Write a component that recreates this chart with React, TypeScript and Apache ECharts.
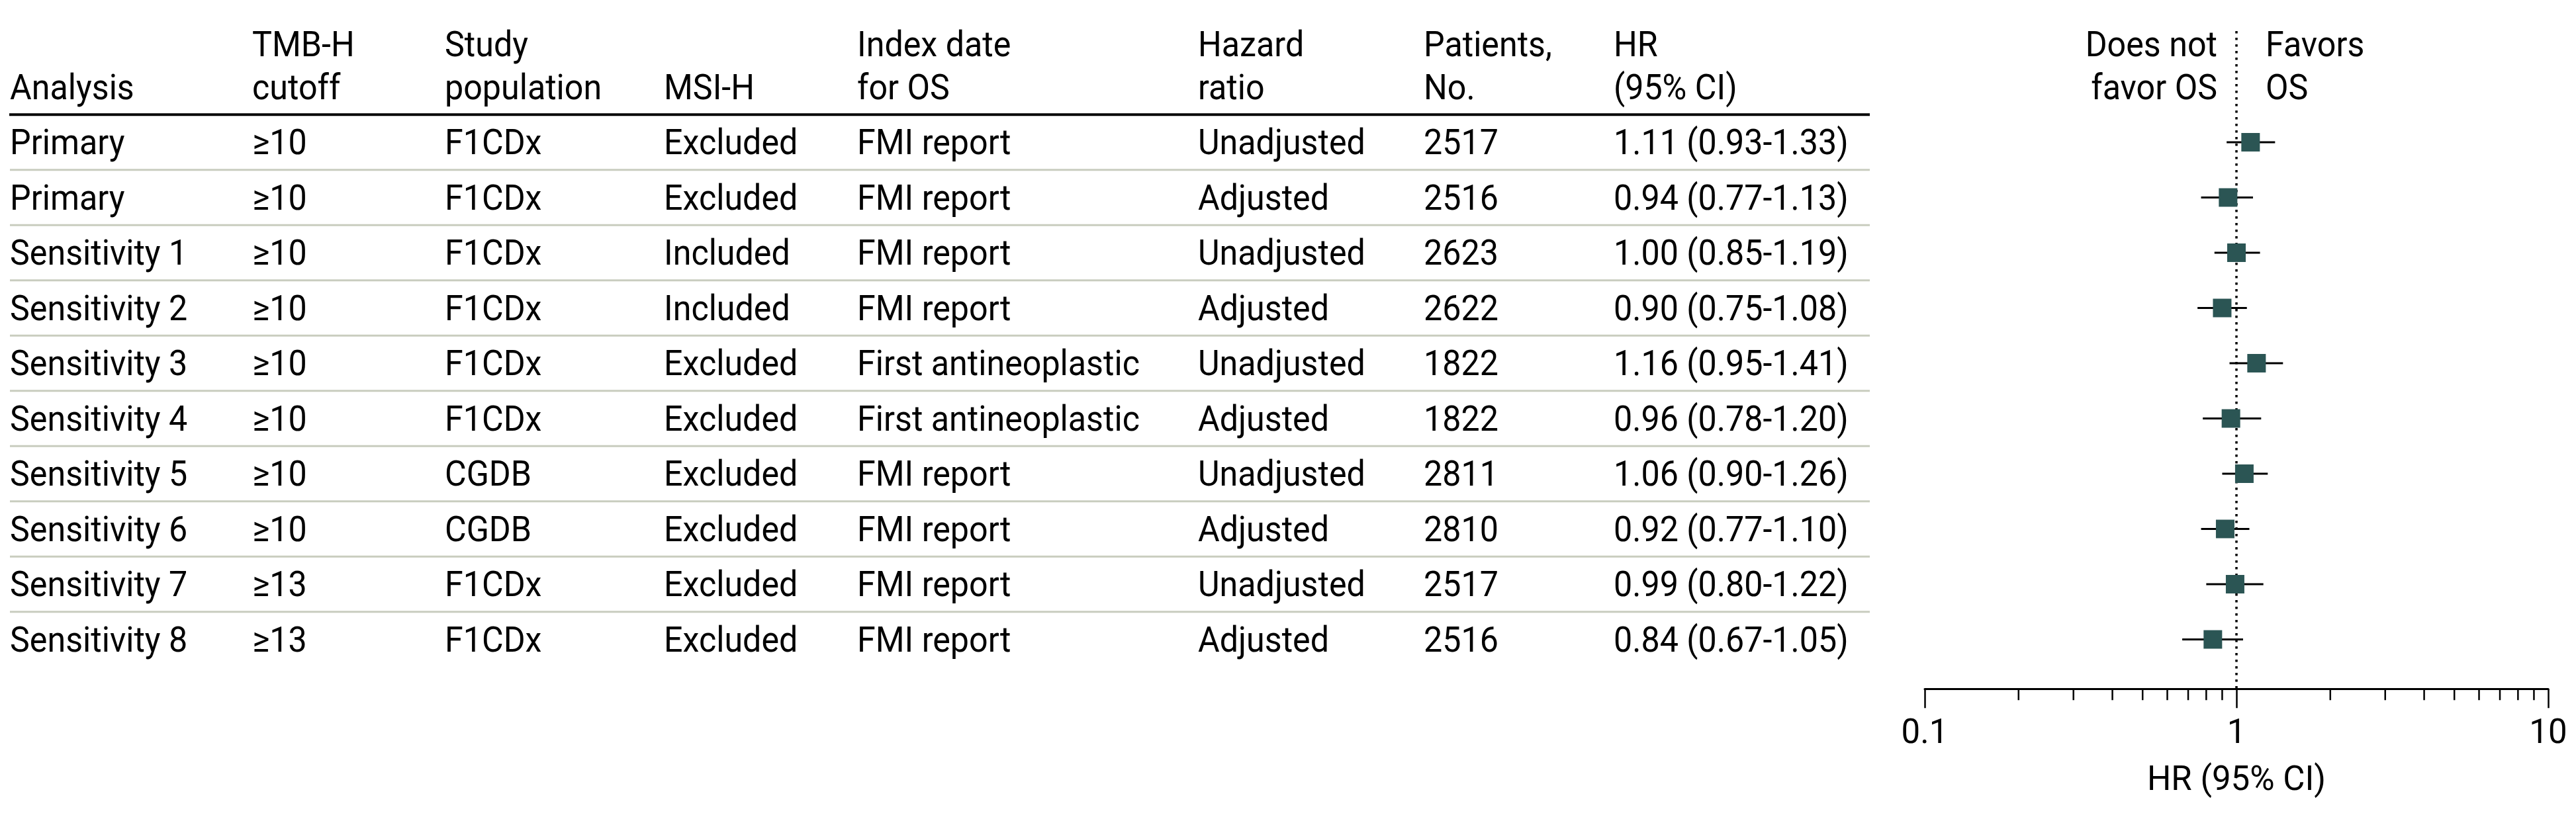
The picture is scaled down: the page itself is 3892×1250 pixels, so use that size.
import React, { useEffect, useRef } from "react";
import * as echarts from "echarts";

// ---------- data ----------
const analysis = ["Primary", "Primary", "Sensitivity 1", "Sensitivity 2", "Sensitivity 3", "Sensitivity 4", "Sensitivity 5", "Sensitivity 6", "Sensitivity 7", "Sensitivity 8"];
const cutoff = ["≥10", "≥10", "≥10", "≥10", "≥10", "≥10", "≥10", "≥10", "≥13", "≥13"];
const population = ["F1CDx", "F1CDx", "F1CDx", "F1CDx", "F1CDx", "F1CDx", "CGDB", "CGDB", "F1CDx", "F1CDx"];
const msiH = ["Excluded", "Excluded", "Included", "Included", "Excluded", "Excluded", "Excluded", "Excluded", "Excluded", "Excluded"];
const indexDate = ["FMI report", "FMI report", "FMI report", "FMI report", "First antineoplastic", "First antineoplastic", "FMI report", "FMI report", "FMI report", "FMI report"];
const hazardType = ["Unadjusted", "Adjusted", "Unadjusted", "Adjusted", "Unadjusted", "Adjusted", "Unadjusted", "Adjusted", "Unadjusted", "Adjusted"];
const patients = [2517, 2516, 2623, 2622, 1822, 1822, 2811, 2810, 2517, 2516];
const hr = [1.11, 0.94, 1.0, 0.9, 1.16, 0.96, 1.06, 0.92, 0.99, 0.84];
const hrLow = [0.93, 0.77, 0.85, 0.75, 0.95, 0.78, 0.9, 0.77, 0.8, 0.67];
const hrHigh = [1.33, 1.13, 1.19, 1.08, 1.41, 1.2, 1.26, 1.1, 1.22, 1.05];

const headerLine1 = ["", "TMB-H", "Study", "", "Index date", "Hazard", "Patients,", "HR"];
const headerLine2 = ["Analysis", "cutoff", "population", "MSI-H", "for OS", "ratio", "No.", "(95% CI)"];
const xTickLabels = ["0.1", "1", "10"];
const minorTickValues = [0.2, 0.3, 0.4, 0.5, 0.6, 0.7, 0.8, 0.9, 2, 3, 4, 5, 6, 7, 8, 9];

// ---------- layout / style ----------
const FONT = "Roboto";
const FS = 54;
const SX = 0.93;
const colX = [15, 381, 672, 1003, 1295, 1810, 2151, 2438];
const tableLeft = 15;
const tableRight = 2825;
const axisOffset = 33;
const refLineTop = 47;
const markerColor = "#2b5554";

const fmt = (v: number) => v.toFixed(2);

export default function App() {
  const ref = useRef<HTMLDivElement>(null);

  useEffect(() => {
    if (!ref.current) return;
    const chart = echarts.init(ref.current, null, { renderer: "svg" });

    const rows = analysis.map((_, i) => i);
    const cells = (i: number) => [
      analysis[i],
      cutoff[i],
      population[i],
      msiH[i],
      indexDate[i],
      hazardType[i],
      String(patients[i]),
      `${fmt(hr[i])} (${fmt(hrLow[i])}-${fmt(hrHigh[i])})`,
    ];

    const textStyle = (text: string, align = "left") => ({
      text,
      fontSize: FS,
      fontFamily: FONT,
      fill: "#000",
      align,
      verticalAlign: "middle",
    });
    const textEl = (text: string, x: number, y: number, align = "left") => ({
      type: "text",
      x,
      y,
      scaleX: SX,
      style: textStyle(text, align),
    });

    const headerGraphics: any[] = [];
    colX.forEach((x, c) => {
      if (headerLine1[c]) headerGraphics.push(textEl(headerLine1[c], x, 67));
      if (headerLine2[c]) headerGraphics.push(textEl(headerLine2[c], x, 132));
    });
    headerGraphics.push(textEl("Does not", 3350, 67, "right"));
    headerGraphics.push(textEl("favor OS", 3350, 132, "right"));
    headerGraphics.push(textEl("Favors", 3423, 67));
    headerGraphics.push(textEl("OS", 3423, 132));

    const option: any = {
      animation: false,
      backgroundColor: "#fff",
      grid: {
        left: 2908,
        top: 173.25,
        width: 942,
        height: 835,
        containLabel: false,
        outerBoundsMode: "none",
      },
      xAxis: {
        type: "log",
        logBase: 10,
        min: 0.1,
        max: 10,
        interval: 1,
        offset: axisOffset,
        axisLine: { show: true, onZero: false, lineStyle: { color: "#000", width: 3 } },
        axisTick: { show: true, length: 29, lineStyle: { color: "#000", width: 2.5 } },
        minorTick: { show: false },
        splitLine: { show: false },
        axisLabel: {
          show: true,
          margin: 39,
          fontSize: 51,
          fontFamily: FONT,
          color: "#000",
          showMinLabel: true,
          showMaxLabel: true,
          formatter: (v: number) => {
            const k = Math.round(Math.log10(v)) + 1;
            return xTickLabels[k] ?? String(v);
          },
        },
        name: "HR (95% CI)",
        nameLocation: "middle",
        nameGap: 110,
        nameTextStyle: { fontSize: 51, fontFamily: FONT, color: "#000" },
      },
      yAxis: {
        type: "value",
        min: -0.5,
        max: 9.5,
        inverse: true,
        show: false,
        splitLine: { show: false },
      },
      graphic: headerGraphics,
      series: [
        // table rules
        {
          type: "custom",
          clip: false,
          silent: true,
          data: [[1, -0.5, 1], ...rows.slice(0, 9).map((i) => [1, i + 0.5, 0])],
          encode: { x: 0, y: 1 },
          renderItem: (params: any, api: any) => {
            const y = api.coord([1, api.value(1)])[1];
            const thick = api.value(2) === 1;
            return {
              type: "line",
              shape: { x1: tableLeft - (thick ? 1 : 0), y1: y, x2: tableRight, y2: y },
              style: { stroke: thick ? "#000" : "#c9cdbf", lineWidth: thick ? 4 : 3 },
            };
          },
        },
        // table text
        {
          type: "custom",
          clip: false,
          silent: true,
          data: rows.map((i) => [1, i]),
          encode: { x: 0, y: 1 },
          renderItem: (params: any, api: any) => {
            const i = params.dataIndex;
            const y = api.coord([1, api.value(1)])[1];
            return {
              type: "group",
              children: cells(i).map((t, c) => textEl(t, colX[c], y)),
            };
          },
        },
        // reference line at HR = 1
        {
          type: "custom",
          clip: false,
          silent: true,
          data: [[1, 9.5]],
          encode: { x: 0, y: 1 },
          renderItem: (params: any, api: any) => {
            const p = api.coord([api.value(0), api.value(1)]);
            return {
              type: "line",
              shape: { x1: p[0], y1: refLineTop, x2: p[0], y2: p[1] + axisOffset },
              style: { stroke: "#000", lineWidth: 3.5, lineDash: [3.5, 6.5] },
            };
          },
        },
        // minor ticks of log axis
        {
          type: "custom",
          clip: false,
          silent: true,
          data: minorTickValues.map((v) => [v, 9.5]),
          encode: { x: 0, y: 1 },
          renderItem: (params: any, api: any) => {
            const p = api.coord([api.value(0), api.value(1)]);
            const y0 = p[1] + axisOffset;
            return {
              type: "line",
              shape: { x1: p[0], y1: y0, x2: p[0], y2: y0 + 17 },
              style: { stroke: "#000", lineWidth: 2.5 },
            };
          },
        },
        // forest plot: CI lines + squares
        {
          type: "custom",
          clip: false,
          data: rows.map((i) => [hr[i], i, hrLow[i], hrHigh[i]]),
          encode: { x: 0, y: 1 },
          renderItem: (params: any, api: any) => {
            const row = api.value(1);
            const c = api.coord([api.value(0), row]);
            const lo = api.coord([api.value(2), row])[0];
            const hi = api.coord([api.value(3), row])[0];
            return {
              type: "group",
              children: [
                {
                  type: "line",
                  shape: { x1: lo, y1: c[1], x2: hi, y2: c[1] },
                  style: { stroke: "#000", lineWidth: 3 },
                },
                {
                  type: "rect",
                  shape: { x: c[0] - 14, y: c[1] - 14, width: 28, height: 28 },
                  style: { fill: markerColor },
                },
              ],
            };
          },
        },
      ],
    };

    chart.setOption(option);
    return () => chart.dispose();
  }, []);

  return (
    <div
      ref={ref}
      style={{ position: "fixed", left: 0, top: 0, width: 3892, height: 1250, background: "#fff" }}
    />
  );
}
